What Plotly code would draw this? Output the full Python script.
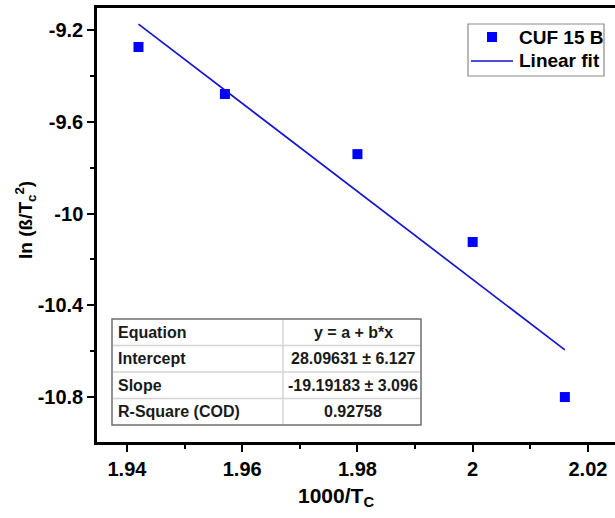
import plotly.graph_objects as go

# Measured points: 1000/Tc versus ln(beta/Tc^2)
x_inv_tc = [1.942, 1.957, 1.980, 2.000, 2.016]
y_ln = [-9.274, -9.479, -9.741, -10.124, -10.800]

# Linear fit parameters (y = a + b*x)
fit_intercept = 28.09631
fit_slope = -19.19183

# Fit summary table
table_labels = ["Equation", "Intercept", "Slope", "R-Square (COD)"]
table_values = ["y = a + b*x", "28.09631 \u00b1 6.127", "-19.19183 \u00b1 3.096", "0.92758"]

# Legend entries
series_names = ["CUF 15 B", "Linear fit"]

# Axis ticks
x_ticks = [1.94, 1.96, 1.98, 2.00, 2.02]
x_ticktext = ["1.94", "1.96", "1.98", "2", "2.02"]
y_ticks = [-9.2, -9.6, -10.0, -10.4, -10.8]
y_ticktext = ["-9.2", "-9.6", "-10", "-10.4", "-10.8"]

FONT = "Liberation Sans, Arial, sans-serif"
W, H = 615, 518
ML, MR, MT, MB = 97, 0, 8, 76
PW, PH = W - ML - MR, H - MT - MB
MARKER_COLOR = "#0000FF"
LINE_COLOR = "#1414D2"

fit_x = [x_inv_tc[0], x_inv_tc[-1]]
fit_y = [fit_intercept + fit_slope * v for v in fit_x]


def px_x(p):
    return (p - ML) / PW


def px_y(p):
    return (H - MB - p) / PH


fig = go.Figure()

fig.add_trace(go.Scatter(
    x=x_inv_tc, y=y_ln, mode="markers", name=series_names[0],
    marker=dict(symbol="square", size=10, color=MARKER_COLOR),
))
fig.add_trace(go.Scatter(
    x=fit_x, y=fit_y, mode="lines", name=series_names[1],
    line=dict(color=LINE_COLOR, width=1.7),
))

shapes = []
annotations = []

# Summary table drawn as a boxed grid with text cells
tbl_left, tbl_right, tbl_mid = 112, 421, 283
tbl_top, row_h = 319, 26.5
n_rows = len(table_labels)
tbl_bottom = tbl_top + n_rows * row_h

shapes.append(dict(type="rect", xref="paper", yref="paper",
                   x0=px_x(tbl_left), x1=px_x(tbl_right),
                   y0=px_y(tbl_bottom), y1=px_y(tbl_top),
                   fillcolor="white", line=dict(color="#6e6e6e", width=1.5),
                   layer="above"))
for i in range(1, n_rows):
    yy = px_y(tbl_top + i * row_h)
    shapes.append(dict(type="line", xref="paper", yref="paper",
                       x0=px_x(tbl_left + 1), x1=px_x(tbl_right - 1), y0=yy, y1=yy,
                       line=dict(color="#d4d4d4", width=1.5), layer="above"))
shapes.append(dict(type="line", xref="paper", yref="paper",
                   x0=px_x(tbl_mid), x1=px_x(tbl_mid),
                   y0=px_y(tbl_top + 1), y1=px_y(tbl_bottom - 1),
                   line=dict(color="#d4d4d4", width=1.5), layer="above"))

cell_font = dict(family=FONT, size=16, color="#1a1a1a", weight="bold")
for i, (lab, val) in enumerate(zip(table_labels, table_values)):
    yc = px_y(tbl_top + (i + 0.5) * row_h)
    annotations.append(dict(text=lab, xref="paper", yref="paper",
                            x=px_x(tbl_left + 4), y=yc, xanchor="left", yanchor="middle",
                            showarrow=False, font=cell_font))
    annotations.append(dict(text=val, xref="paper", yref="paper",
                            x=px_x((tbl_mid + tbl_right) / 2 + 1), y=yc,
                            xanchor="center", yanchor="middle",
                            showarrow=False, font=cell_font))

# Legend box with a marker swatch and a line swatch
lg_left, lg_right, lg_top, lg_bottom = 468, 604, 24, 76
lg_rows = [37, 61]
shapes.append(dict(type="rect", xref="paper", yref="paper",
                   x0=px_x(lg_left), x1=px_x(lg_right),
                   y0=px_y(lg_bottom), y1=px_y(lg_top),
                   fillcolor="white", line=dict(color="#8a8a8a", width=1.2),
                   layer="above"))
shapes.append(dict(type="rect", xref="paper", yref="paper",
                   x0=px_x(487), x1=px_x(497), y0=px_y(lg_rows[0] + 5), y1=px_y(lg_rows[0] - 5),
                   fillcolor=MARKER_COLOR, line=dict(width=0), layer="above"))
shapes.append(dict(type="line", xref="paper", yref="paper",
                   x0=px_x(471), x1=px_x(513), y0=px_y(lg_rows[1]), y1=px_y(lg_rows[1]),
                   line=dict(color=LINE_COLOR, width=1.7), layer="above"))
for name, yr in zip(series_names, lg_rows):
    annotations.append(dict(text=name, xref="paper", yref="paper",
                            x=px_x(517), y=px_y(yr), xanchor="left", yanchor="middle",
                            showarrow=False,
                            font=dict(family=FONT, size=19, color="black", weight="bold")))

annotations += [
    dict(text="1000/T<sub>C</sub>", xref="paper", yref="paper",
         x=px_x(336), y=px_y(497), xanchor="center", yanchor="middle",
         showarrow=False,
         font=dict(family=FONT, size=21, color="black", weight="bold")),
    dict(text="ln (\u00df/T<sub>c</sub><sup>2</sup>)", xref="paper", yref="paper",
         x=px_x(25), y=px_y(220), xanchor="center", yanchor="middle",
         textangle=-90, showarrow=False,
         font=dict(family=FONT, size=19, color="black", weight="bold")),
]

axis_common = dict(
    showgrid=False, zeroline=False,
    showline=True, linecolor="black", linewidth=2.5,
    ticks="outside", ticklen=7, tickwidth=2, tickcolor="black",
    tickfont=dict(family=FONT, size=20, color="black", weight="bold"),
)

fig.update_xaxes(
    range=[1.9348, 2.0247],
    tickvals=x_ticks, ticktext=x_ticktext,
    mirror=True,
    minor=dict(ticks="outside", ticklen=4, tickwidth=2, tickcolor="black", dtick=0.01, tick0=1.93),
    **axis_common,
)
fig.update_yaxes(
    range=[-10.996, -9.104],
    tickvals=y_ticks, ticktext=y_ticktext,
    minor=dict(ticks="outside", ticklen=4, tickwidth=2, tickcolor="black", dtick=0.2, tick0=-9.0),
    **axis_common,
)

fig.update_layout(
    width=W, height=H,
    margin=dict(l=ML, r=MR, t=MT, b=MB),
    paper_bgcolor="white", plot_bgcolor="white",
    showlegend=False,
    shapes=shapes,
    annotations=annotations,
)

fig.write_html("out.html")
